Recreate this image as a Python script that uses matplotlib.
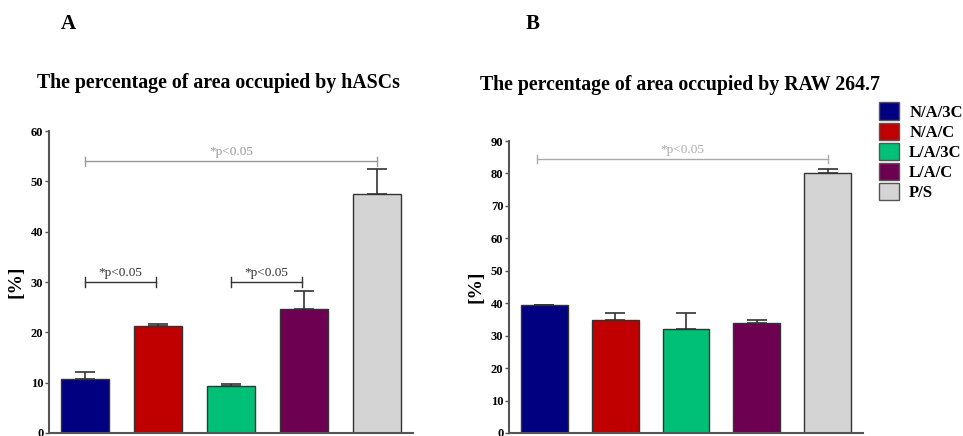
import matplotlib.pyplot as plt
from matplotlib.patches import Patch

plt.rcParams['font.family'] = ['Liberation Serif', 'DejaVu Serif']

groups = ['N/A/3C', 'N/A/C', 'L/A/3C', 'L/A/C', 'P/S']
colors = ['#000080', '#c00000', '#00c078', '#6d0050', '#d4d4d4']

hascs_mean = [10.7, 21.3, 9.3, 24.7, 47.5]
hascs_err = [1.4, 0.3, 0.5, 3.6, 4.9]
raw_mean = [39.5, 34.8, 32.0, 34.0, 80.0]
raw_err = [0.0, 2.2, 5.0, 0.8, 1.5]

fig = plt.figure(figsize=(9.63, 4.36), dpi=100)
axA = fig.add_axes([0.0509, 0.0069, 0.378, 0.6926])
axB = fig.add_axes([0.5286, 0.0069, 0.3676, 0.6697])


def draw_panel(ax, means, errs, ymax, step):
    x = list(range(len(means)))
    ax.bar(x, means, width=0.66, color=colors, edgecolor='#333333', linewidth=1.0, zorder=2)
    ax.errorbar(x, means, yerr=[[0] * len(errs), errs], fmt='none', ecolor='#333333',
                elinewidth=1.2, capsize=7, capthick=1.2, zorder=1)
    ax.set_xlim(-0.5, 4.5)
    ax.set_ylim(0, ymax)
    ax.set_yticks(range(0, ymax + 1, step))
    ax.set_xticks([])
    for s in ['top', 'right']:
        ax.spines[s].set_visible(False)
    for s in ['left', 'bottom']:
        ax.spines[s].set_color('#555555')
        ax.spines[s].set_linewidth(1.5)
    ax.tick_params(axis='y', length=3, width=1, color='#555555', labelsize=9, pad=1)
    for t in ax.get_yticklabels():
        t.set_fontweight('bold')
    ax.set_ylabel('[%]', fontsize=14, fontweight='bold', labelpad=5)


def bracket(ax, x0, x1, y, h, color, tcolor):
    ax.plot([x0, x1], [y, y], color=color, lw=1, clip_on=False)
    ax.plot([x0, x0], [y - h, y + h], color=color, lw=1, clip_on=False)
    ax.plot([x1, x1], [y - h, y + h], color=color, lw=1, clip_on=False)
    ax.text((x0 + x1) / 2, y + h * 0.6, '*p<0.05', color=tcolor, fontsize=9.5,
            ha='center', va='bottom')


draw_panel(axA, hascs_mean, hascs_err, 60, 10)
draw_panel(axB, raw_mean, raw_err, 90, 10)

bracket(axA, 0.0, 4.0, 54, 0.9, '#999999', '#999999')
bracket(axA, 0.0, 0.97, 30, 0.9, '#333333', '#333333')
bracket(axA, 2.0, 2.97, 30, 0.9, '#333333', '#333333')
bracket(axB, -0.1, 4.0, 84.5, 1.3, '#aaaaaa', '#aaaaaa')

fig.text(0.0706, 0.945, 'A', fontsize=15, fontweight='bold', ha='center', va='center')
fig.text(0.5535, 0.945, 'B', fontsize=15, fontweight='bold', ha='center', va='center')
fig.text(0.0384, 0.81, 'The percentage of area occupied by hASCs', fontsize=14.3,
         fontweight='bold', ha='left', va='center')
fig.text(0.4985, 0.805, 'The percentage of area occupied by RAW 264.7', fontsize=14.3,
         fontweight='bold', ha='left', va='center')

handles = [Patch(facecolor=c, edgecolor='#555555', label=g) for c, g in zip(colors, groups)]
leg = fig.legend(handles=handles, loc='upper left', bbox_to_anchor=(0.913, 0.765),
                 frameon=False, handlelength=1.2, handleheight=1.2, handletextpad=0.6,
                 labelspacing=0.12, borderaxespad=0, borderpad=0,
                 prop={'weight': 'bold', 'size': 12})

fig.savefig('out.png', dpi=100)
